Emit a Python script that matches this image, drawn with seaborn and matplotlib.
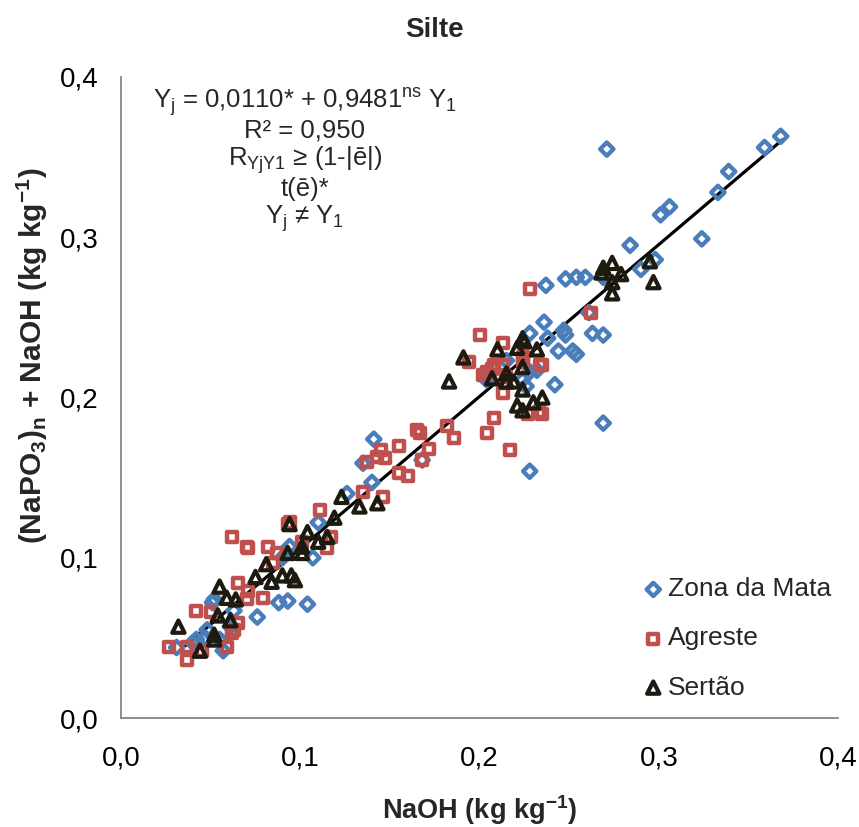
# Silte: (NaPO3)n + NaOH vs NaOH scatter, three regions + fitted line
import matplotlib
matplotlib.use('Agg')
import numpy as np
import pandas as pd
import matplotlib.pyplot as plt
from matplotlib.ticker import FuncFormatter, MultipleLocator
import seaborn as sns

sns.set_style('white')
plt.rcParams['font.family'] = ['Liberation Sans', 'DejaVu Sans']
plt.rcParams['mathtext.fontset'] = 'custom'
plt.rcParams['mathtext.rm'] = 'Liberation Sans'
plt.rcParams['mathtext.it'] = 'Liberation Sans'
plt.rcParams['mathtext.bf'] = 'Liberation Sans:bold'

#----------------------------------------------------------------------------
# Data
#----------------------------------------------------------------------------
mata_x = [0.368, 0.359, 0.339, 0.333, 0.306, 0.301, 0.324, 0.284, 0.298, 0.290, 0.271, 0.269,
          0.259, 0.254, 0.248, 0.237, 0.236, 0.228, 0.238, 0.247, 0.248, 0.263, 0.269, 0.244,
          0.252, 0.254, 0.242, 0.269, 0.261, 0.228, 0.226, 0.204, 0.228, 0.141, 0.135, 0.140,
          0.168, 0.215, 0.224, 0.232, 0.126, 0.110, 0.094, 0.107, 0.104, 0.093, 0.088, 0.076,
          0.052, 0.063, 0.090, 0.051, 0.048, 0.042, 0.040, 0.055, 0.031, 0.057, 0.047, 0.061]
mata_y = [0.363, 0.356, 0.341, 0.328, 0.319, 0.314, 0.299, 0.295, 0.286, 0.280, 0.355, 0.275,
          0.275, 0.275, 0.274, 0.270, 0.247, 0.240, 0.237, 0.242, 0.239, 0.240, 0.239, 0.229,
          0.229, 0.227, 0.208, 0.184, 0.253, 0.216, 0.207, 0.211, 0.154, 0.174, 0.159, 0.147,
          0.161, 0.223, 0.211, 0.217, 0.140, 0.122, 0.107, 0.100, 0.071, 0.073, 0.072, 0.063,
          0.074, 0.067, 0.100, 0.072, 0.055, 0.049, 0.047, 0.049, 0.044, 0.042, 0.050, 0.057]

agreste_x = [0.228, 0.262, 0.213, 0.200, 0.235, 0.224, 0.207, 0.202, 0.213, 0.235, 0.227, 0.208,
             0.204, 0.217, 0.194, 0.204, 0.208, 0.213, 0.215, 0.224, 0.234, 0.233, 0.165, 0.167,
             0.182, 0.186, 0.155, 0.172, 0.145, 0.143, 0.147, 0.168, 0.137, 0.155, 0.160, 0.135,
             0.146, 0.111, 0.093, 0.117, 0.115, 0.101, 0.070, 0.082, 0.062, 0.071, 0.094, 0.085,
             0.042, 0.050, 0.065, 0.063, 0.070, 0.079, 0.027, 0.037, 0.037, 0.045, 0.059, 0.087,
             0.065, 0.071, 0.062]
agreste_y = [0.268, 0.253, 0.234, 0.239, 0.220, 0.225, 0.218, 0.214, 0.203, 0.190, 0.190, 0.187,
             0.178, 0.167, 0.222, 0.216, 0.220, 0.220, 0.213, 0.222, 0.220, 0.191, 0.180, 0.178,
             0.182, 0.175, 0.170, 0.168, 0.167, 0.163, 0.162, 0.161, 0.160, 0.153, 0.151, 0.141,
             0.138, 0.130, 0.121, 0.113, 0.106, 0.110, 0.107, 0.107, 0.113, 0.106, 0.122, 0.097,
             0.067, 0.066, 0.059, 0.055, 0.074, 0.075, 0.044, 0.044, 0.036, 0.042, 0.044, 0.103,
             0.084, 0.079, 0.053]

sertao_x = [0.274, 0.268, 0.274, 0.279, 0.274, 0.295, 0.297, 0.269, 0.210, 0.224, 0.221, 0.225,
            0.232, 0.224, 0.207, 0.215, 0.215, 0.219, 0.224, 0.221, 0.224, 0.230, 0.235, 0.191,
            0.183, 0.123, 0.133, 0.143, 0.119, 0.094, 0.104, 0.115, 0.110, 0.101, 0.101, 0.093,
            0.075, 0.081, 0.084, 0.090, 0.095, 0.097, 0.055, 0.059, 0.064, 0.054, 0.061, 0.032,
            0.052, 0.052, 0.044]
sertao_y = [0.284, 0.278, 0.272, 0.277, 0.265, 0.285, 0.272, 0.281, 0.230, 0.237, 0.231, 0.235,
            0.230, 0.219, 0.212, 0.215, 0.210, 0.210, 0.205, 0.195, 0.192, 0.197, 0.200, 0.225,
            0.210, 0.138, 0.132, 0.134, 0.125, 0.121, 0.116, 0.113, 0.110, 0.107, 0.103, 0.103,
            0.088, 0.096, 0.085, 0.089, 0.089, 0.086, 0.082, 0.075, 0.074, 0.064, 0.061, 0.057,
            0.052, 0.049, 0.042]

# fitted line Yj = 0,0110 + 0,9481 Y1
fit_intercept = 0.0110
fit_slope = 0.9481
fit_x = [0.036, 0.369]

annotation = [r'Y$_\mathrm{j}$ = 0,0110* + 0,9481$^\mathrm{ns}$ Y$_\mathrm{1}$',
              r'R² = 0,950',
              r'R$_\mathrm{YjY1}$ ≥ (1-|ē|)',
              r't(ē)*',
              r'Y$_\mathrm{j}$ ≠ Y$_\mathrm{1}$']

BLUE = '#4a7ebb'
RED = '#c0504d'
DARK = '#1d1b10'

#----------------------------------------------------------------------------
# Plot
#----------------------------------------------------------------------------
fig = plt.figure(figsize=(8.59, 8.27), dpi=100)
ax = fig.add_axes([0.1409, 0.1318, 0.8347, 0.7751])

fx = np.array(fit_x)
ax.plot(fx, fit_intercept + fit_slope * fx, color='black', lw=2.3, zorder=2)

sns.scatterplot(x=mata_x, y=mata_y, marker='D', s=46, color=BLUE, facecolor='none',
                edgecolor=BLUE, linewidth=3.1, ax=ax, label='Zona da Mata', zorder=3)
sns.scatterplot(x=agreste_x, y=agreste_y, marker='s', s=52, color=RED, facecolor='none',
                edgecolor=RED, linewidth=3.2, ax=ax, label='Agreste', zorder=4)
sns.scatterplot(x=sertao_x, y=sertao_y, marker='^', s=78, color=DARK, facecolor='none',
                edgecolor=DARK, linewidth=3.0, ax=ax, label='Sertão', zorder=5)

ax.set_xlim(0, 0.4)
ax.set_ylim(0, 0.4)
ax.xaxis.set_major_locator(MultipleLocator(0.1))
ax.yaxis.set_major_locator(MultipleLocator(0.1))
fmt = FuncFormatter(lambda v, p: ('%.1f' % v).replace('.', ','))
ax.xaxis.set_major_formatter(fmt)
ax.yaxis.set_major_formatter(fmt)

for side in ['top', 'right']:
    ax.spines[side].set_visible(False)
for side in ['left', 'bottom']:
    ax.spines[side].set_color('#868686')
    ax.spines[side].set_linewidth(1.3)

ax.tick_params(axis='both', direction='out', length=6, width=1.3, color='#868686',
               labelsize=20, labelcolor='black')
ax.tick_params(axis='x', pad=14)
ax.tick_params(axis='y', pad=10)

ax.set_xlabel('NaOH (kg kg$^{\\mathbf{-1}}$)', fontsize=19.5, fontweight='bold')
ax.xaxis.set_label_coords(0.5, -0.1435)
ax.xaxis.label.set_va('center')

ax.set_ylabel('(NaPO$_\\mathbf{3}$)$_\\mathbf{n}$ + NaOH (kg kg$^{\\mathbf{-1}}$)', fontsize=21.5,
              fontweight='bold')
ax.yaxis.set_label_coords(-0.124, 0.565)
ax.yaxis.label.set_va('center')

fig.text(0.506, 0.964, 'Silte', ha='center', va='center', fontsize=20, fontweight='bold')

ann_y = [0.3838, 0.3663, 0.3482, 0.3301, 0.3114]
for txt, yy in zip(annotation, ann_y):
    ax.text(0.1026, yy, txt, ha='center', va='center', fontsize=18.5)

ax.legend(loc='lower right', bbox_to_anchor=(1.016, 0.0), frameon=False, fontsize=19,
          labelspacing=0.95, handletextpad=0.15, handlelength=0.8, borderaxespad=0.3)

plt.savefig('out.png', dpi=100)
